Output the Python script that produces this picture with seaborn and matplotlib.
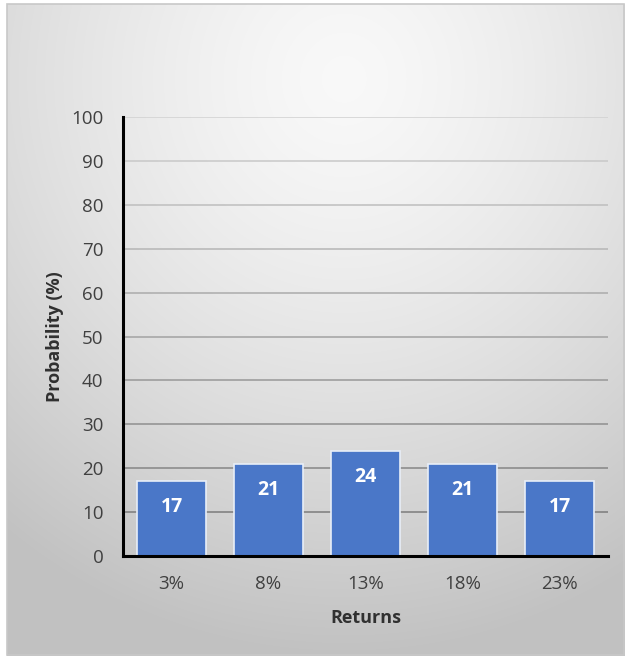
import numpy as np
import pandas as pd
import matplotlib
matplotlib.use("Agg")
import matplotlib.pyplot as plt
from matplotlib.patches import Rectangle
import seaborn as sns

returns = ["3%", "8%", "13%", "18%", "23%"]
probability = [17, 21, 24, 21, 17]
y_ticks = [0, 10, 20, 30, 40, 50, 60, 70, 80, 90, 100]

sns.set_theme(style="white")
plt.rcParams["font.family"] = ["Open Sans", "DejaVu Sans"]

W, H = 625, 656
fig = plt.figure(figsize=(W / 100, H / 100), dpi=100)

# Broad radial grey gradient behind the chart area
bg = fig.add_axes([0, 0, 1, 1], zorder=-10)
bg.set_axis_off()
yy, xx = np.mgrid[0:H, 0:W]
cx, cy = 0.55 * W, 0.12 * H
d = np.sqrt(((xx - cx) / W) ** 2 + ((yy - cy) / H) ** 2)
val = np.clip(0.975 - 0.26 * d ** 1.4, 0.76, 1.0)
img = np.dstack([val, val, val])
bg.imshow(img, extent=[0, W, H, 0], aspect="auto", interpolation="bilinear")
bg.set_xlim(0, W)
bg.set_ylim(H, 0)
# white margin on top/left and thin frame
bg.add_patch(Rectangle((0, 0), W, 4, color="white", lw=0))
bg.add_patch(Rectangle((0, 0), 7, H, color="white", lw=0))
bg.add_patch(Rectangle((7, 4), W - 8, H - 5, fill=False, ec="#c8c8c8", lw=1.2))

ax = fig.add_axes([123 / W, 1 - 556 / H, (608 - 123) / W, (556 - 117) / H])
ax.set_facecolor("none")

df = pd.DataFrame({"Returns": returns, "Probability": probability})
sns.barplot(data=df, x="Returns", y="Probability", color="#4a77c8",
            saturation=1, width=0.72, edgecolor="#e8eef8", linewidth=1.2,
            ax=ax, zorder=3)

for i, v in enumerate(probability):
    ax.text(i, v - 5.9, str(v), ha="center", va="center", color="white",
            fontsize=14, fontweight="bold", zorder=4)

ax.set_xlim(-0.5, len(returns) - 0.5)
ax.set_ylim(0, 100)
ax.set_yticks(y_ticks)
ax.yaxis.grid(True, linewidth=1.1)
ax.set_axisbelow(True)
for line, t in zip(ax.get_ygridlines(), y_ticks):
    g = 0.45 + 0.37 * (t / 100)
    line.set_color((g, g, g))
    if t == 0:
        line.set_visible(False)

for s in ["top", "right"]:
    ax.spines[s].set_visible(False)
for s in ["left", "bottom"]:
    ax.spines[s].set_color("black")
    ax.spines[s].set_linewidth(2.2)
    ax.spines[s].set_zorder(5)

ax.tick_params(axis="both", length=0, labelsize=13.5, colors="#404040")
ax.tick_params(axis="y", pad=14)
ax.tick_params(axis="x", pad=14)

ax.set_xlabel("Returns", fontsize=13, fontweight="bold", color="#303030", labelpad=11)
ax.set_ylabel("Probability (%)", fontsize=13, fontweight="bold", color="#303030", labelpad=5)

fig.savefig("out.png", dpi=100)
